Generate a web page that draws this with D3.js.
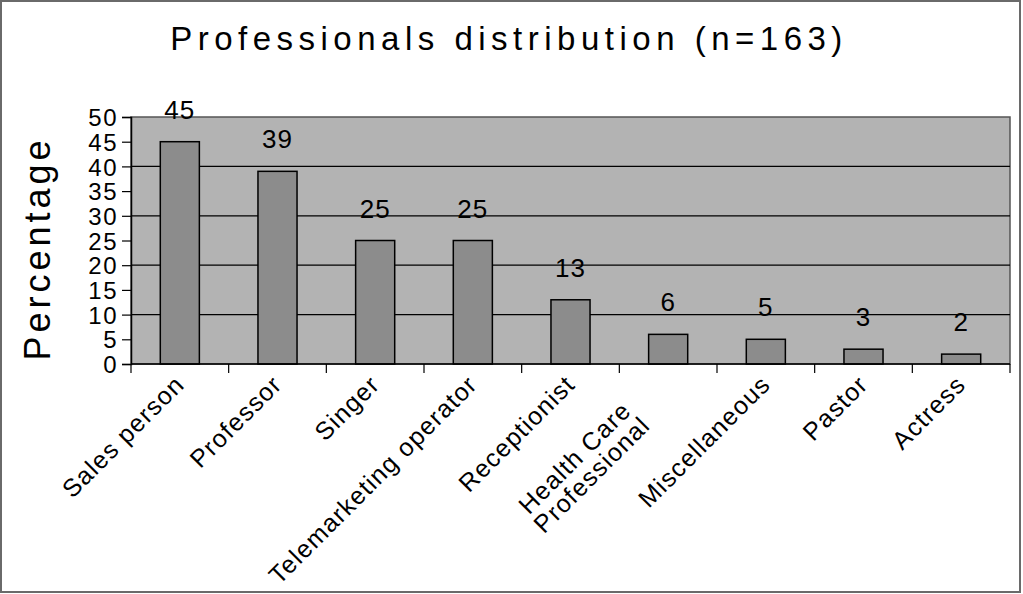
<!DOCTYPE html>
<html>
<head>
<meta charset="utf-8">
<script src="https://cdn.jsdelivr.net/npm/d3@7"></script>
<style>
  body { margin: 0; background: #fff; }
  text { font-family: "Liberation Sans", Arial, sans-serif; fill: #000; }
</style>
</head>
<body>
<div id="app"></div>
<script>
const categories = ["Sales person", "Professor", "Singer", "Telemarketing operator", "Receptionist",
  "Health Care\nProfessional", "Miscellaneous", "Pastor", "Actress"];
const values = [45, 39, 25, 25, 13, 6, 5, 3, 2];
const yTicks = [0, 5, 10, 15, 20, 25, 30, 35, 40, 45, 50];
const gridValues = [10, 20, 30, 40];
const title = "Professionals distribution (n=163)";
const yLabel = "Percentage";

const width = 1023, height = 594;
const plot = { left: 131, right: 1010, top: 117, bottom: 364 };

const svg = d3.select("#app").append("svg")
  .attr("width", width)
  .attr("height", height);

// outer frame
svg.append("rect")
  .attr("x", 1).attr("y", 1)
  .attr("width", 1019).attr("height", 591)
  .attr("fill", "#fff")
  .attr("stroke", "#6a6a6a")
  .attr("stroke-width", 2);

const x = d3.scaleBand()
  .domain(categories)
  .range([plot.left, plot.right])
  .paddingInner(0.6)
  .paddingOuter(0.3);

const y = d3.scaleLinear()
  .domain([0, 50])
  .range([plot.bottom, plot.top]);

// plot background
svg.append("rect")
  .attr("x", plot.left).attr("y", plot.top)
  .attr("width", plot.right - plot.left)
  .attr("height", plot.bottom - plot.top)
  .attr("fill", "#b3b3b3")
  .attr("stroke", "#555")
  .attr("stroke-width", 1.5);

// gridlines
svg.append("g")
  .selectAll("line")
  .data(gridValues)
  .join("line")
  .attr("x1", plot.left).attr("x2", plot.right)
  .attr("y1", d => y(d)).attr("y2", d => y(d))
  .attr("stroke", "#000")
  .attr("stroke-width", 1.2);

// bars
svg.append("g")
  .selectAll("rect")
  .data(values)
  .join("rect")
  .attr("x", (d, i) => x(categories[i]))
  .attr("y", d => y(d))
  .attr("width", x.bandwidth())
  .attr("height", d => y(0) - y(d))
  .attr("fill", "#8c8c8c")
  .attr("stroke", "#000")
  .attr("stroke-width", 1.5);

// value labels
svg.append("g")
  .selectAll("text")
  .data(values)
  .join("text")
  .attr("x", (d, i) => x(categories[i]) + x.bandwidth() / 2)
  .attr("y", d => y(d) - 23)
  .attr("text-anchor", "middle")
  .style("font-size", "26px")
  .style("letter-spacing", "1px")
  .text(d => d);

// y axis
const yAxis = svg.append("g")
  .attr("transform", `translate(${plot.left},0)`)
  .call(d3.axisLeft(y).tickValues(yTicks).tickSize(9).tickPadding(4));
yAxis.select(".domain").attr("stroke", "#000").attr("stroke-width", 1.5);
yAxis.selectAll(".tick line").attr("stroke", "#000").attr("stroke-width", 1.2);
yAxis.selectAll(".tick text")
  .style("font-size", "24px")
  .style("letter-spacing", "1.5px")
  .style("font-family", "Liberation Sans, Arial, sans-serif")
  .attr("fill", "#000")
  .attr("dy", "0.36em");

// x axis line and category ticks
const step = x.step();
const bounds = d3.range(categories.length + 1)
  .map(i => x(categories[0]) - x.paddingOuter() * step + i * step);
svg.append("line")
  .attr("x1", plot.left).attr("x2", plot.right)
  .attr("y1", plot.bottom).attr("y2", plot.bottom)
  .attr("stroke", "#000").attr("stroke-width", 1.5);
svg.append("g")
  .selectAll("line")
  .data(bounds)
  .join("line")
  .attr("x1", d => d).attr("x2", d => d)
  .attr("y1", plot.bottom).attr("y2", plot.bottom + 9)
  .attr("stroke", "#000").attr("stroke-width", 1.2);

// category labels, rotated
const lineH = 24;
svg.append("g")
  .selectAll("text")
  .data(categories)
  .join("text")
  .attr("transform", d => `translate(${x(d) + x.bandwidth() / 2 + 6},${plot.bottom + 22}) rotate(-45)`)
  .style("font-size", "25px")
  .style("letter-spacing", "1.2px")
  .each(function (d) {
    const lines = d.split("\n");
    const t = d3.select(this);
    const spans = t.selectAll("tspan")
      .data(lines)
      .join("tspan")
      .text(l => l);
    if (lines.length === 1) {
      t.attr("text-anchor", "end");
      spans.attr("x", 0).attr("y", 0);
    } else {
      // wrapped label: lines centred on each other, block pulled back along the text
      t.attr("text-anchor", "middle");
      let maxLen = 0;
      spans.each(function () { maxLen = Math.max(maxLen, this.getComputedTextLength()); });
      spans.attr("x", -(maxLen / 2 + 45))
        .attr("y", (l, j) => (j - (lines.length - 1) / 2) * lineH + 1);
    }
  });

// title
svg.append("text")
  .attr("x", 509)
  .attr("y", 50)
  .attr("text-anchor", "middle")
  .style("font-size", "33px")
  .style("letter-spacing", "5.5px")
  .text(title);

// y label
svg.append("text")
  .attr("transform", `translate(50,${(plot.top + plot.bottom) / 2 + 8}) rotate(-90)`)
  .attr("text-anchor", "middle")
  .style("font-size", "36px")
  .style("letter-spacing", "4px")
  .text(yLabel);
</script>
</body>
</html>
